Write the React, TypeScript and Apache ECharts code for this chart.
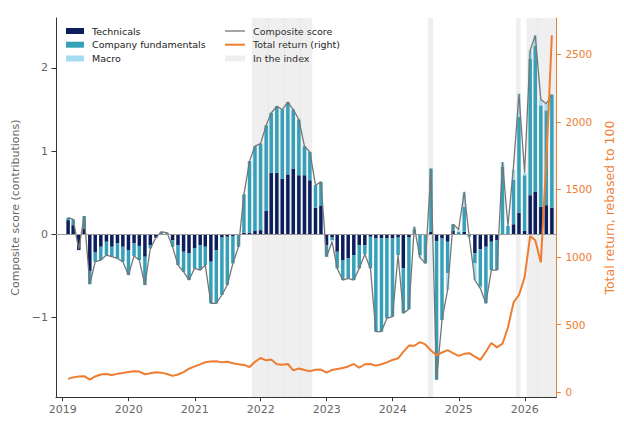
import React, { useEffect, useRef } from 'react';
import * as echarts from 'echarts';

// Monthly observations, first month January 2019, plotted at month end
const START_YEAR = 2019;

const technicals = [
  0.17, 0.11, -0.19, 0.07, -0.44, -0.22, -0.15, -0.09, -0.15, -0.11, -0.15, -0.19,
  -0.11, -0.14, -0.27, -0.13, -0.04, 0.01, 0.01, -0.07, -0.13, -0.21, -0.23, -0.17,
  -0.13, -0.15, -0.33, -0.19, -0.04, -0.03, -0.02, -0.01, 0.02, 0.02, 0.04, 0.05,
  0.28, 0.74, 0.74, 0.67, 0.72, 0.79, 0.71, 0.71, 0.65, 0.32, 0.34, -0.13,
  -0.04, -0.21, -0.31, -0.29, -0.25, -0.13, -0.13, -0.03, -0.05, -0.05, -0.05, -0.05,
  -0.04, -0.41, -0.04, 0, 0, 0, 0.03, -0.08, -0.05, -0.09, 0.04, 0,
  0.03, 0, -0.23, -0.18, -0.15, -0.09, -0.07, 0, 0, 0.12, 0.26, 0.04,
  0.47, 0.51, 0.33, 0.35, 0.32,
];

const fundamentals = [
  0.03, 0.07, 0, 0.15, -0.16, -0.11, -0.16, -0.16, -0.12, -0.18, -0.18, -0.30,
  -0.15, -0.17, -0.34, -0.04, 0, 0.02, 0.01, -0.08, -0.24, -0.24, -0.32, -0.24,
  -0.30, -0.22, -0.50, -0.64, -0.69, -0.58, -0.33, -0.14, 0.46, 0.86, 1.02, 1.04,
  1.03, 0.72, 0.80, 0.83, 0.87, 0.71, 0.67, 0.35, 0.34, 0.27, 0.29, -0.14,
  -0.03, -0.20, -0.24, -0.24, -0.30, -0.28, -0.11, -0.38, -1.12, -1.12, -0.96, -0.94,
  -0.21, -0.54, -0.86, 0.06, -0.25, -0.35, 0.76, -1.67, -0.98, -0.38, 0.08, 0.03,
  0.30, -0.03, -0.12, -0.45, -0.68, -0.34, -0.36, 0.81, 0.10, 0.54, 1.15, 0.67,
  1.64, 1.76, 1.22, 1.14, 1.36,
];

const macro = [
  0, 0, 0, 0, 0, 0, 0, 0, 0, 0, 0, 0,
  0, 0, 0, 0, 0, 0, 0, 0, 0, 0, 0, 0,
  0, 0, 0, 0, 0, 0, 0, 0, 0, 0, 0, 0,
  0, 0, 0, 0, 0, 0, 0, 0, 0, 0, 0, 0,
  -0.02, 0, 0, 0, 0, 0, 0, 0, 0, 0, 0, 0,
  0, 0, 0, 0.03, -0.03, 0, 0, 0, 0, -0.20, 0, 0.03,
  0.18, -0.01, -0.20, -0.02, 0, 0, 0, 0.06, 0, 0.12, 0.28, 0.03,
  0.10, 0.12, 0.07, 0.08, 0,
];

const compositeScore = [
  0.20, 0.18, -0.18, 0.22, -0.60, -0.33, -0.31, -0.25, -0.27, -0.29, -0.33, -0.49,
  -0.26, -0.31, -0.61, -0.17, -0.04, 0.03, 0.02, -0.15, -0.37, -0.45, -0.55, -0.41,
  -0.43, -0.37, -0.83, -0.83, -0.73, -0.61, -0.35, -0.15, 0.48, 0.88, 1.06, 1.09,
  1.31, 1.46, 1.54, 1.50, 1.59, 1.50, 1.38, 1.06, 0.99, 0.59, 0.63, -0.27,
  -0.09, -0.41, -0.55, -0.53, -0.55, -0.41, -0.24, -0.41, -1.17, -1.17, -1.01, -0.99,
  -0.25, -0.95, -0.90, 0.09, -0.28, -0.35, 0.79, -1.75, -1.03, -0.67, 0.12, 0.06,
  0.51, -0.04, -0.55, -0.65, -0.83, -0.43, -0.43, 0.87, 0.10, 0.82, 1.69, 0.74,
  2.21, 2.39, 1.62, 1.57, 1.68,
];

const totalReturn = [
  100, 111, 118, 120, 95, 118, 132, 136, 128, 137, 143, 150,
  156, 154, 134, 141, 149, 146, 136, 122, 132, 150, 175, 192,
  207, 223, 228, 230, 222, 226, 215, 208, 203, 188, 226, 254,
  237, 243, 208, 205, 210, 163, 177, 165, 157, 168, 169, 146,
  166, 173, 180, 192, 210, 182, 208, 210, 198, 208, 222, 240,
  252, 300, 346, 345, 372, 355, 310, 275, 295, 312, 290, 270,
  285, 290, 265, 240, 300, 365, 333, 360, 480, 665, 720, 850,
  1155, 1125, 960, 1700, 2640,
];

const YEAR_TICKS = [2019, 2020, 2021, 2022, 2023, 2024, 2025, 2026];
const SCORE_TICKS = [-1, 0, 1, 2];
const RETURN_TICKS = [0, 500, 1000, 1500, 2000, 2500];

// Periods of index membership
const INDEX_PERIODS: [string, string][] = [
  ['2021-11-13', '2022-02-15'],
  ['2022-02-12', '2022-05-12'],
  ['2022-05-09', '2022-08-11'],
  ['2022-08-08', '2022-10-13'],
  ['2024-07-14', '2024-08-12'],
  ['2025-11-14', '2025-12-09'],
  ['2026-01-11', '2026-03-16'],
  ['2026-03-13', '2026-06-25'],
];

const C_TECH = '#0c1e5b';
const C_FUND = '#35a0b8';
const C_MACRO = '#a6dbf0';
const C_COMPOSITE = '#767676';
const C_RETURN = '#ee7d31';
const C_BAND = 'rgba(128,128,128,0.13)';
const FONT = "'DejaVu Sans', sans-serif";
const COMPONENT_COLORS = [C_TECH, C_FUND, C_MACRO];
const BAR_W = 3.5;

const stamp = (s: string) => {
  const [y, m, d] = s.split('-').map(Number);
  return new Date(y, m - 1, d).getTime();
};
const monthEnds = technicals.map((_, i) => new Date(START_YEAR, i + 1, 0).getTime());
const yearStamps = YEAR_TICKS.map((y) => new Date(y, 0, 1).getTime());
const pairs = (arr: number[]) => monthEnds.map((t, i) => [t, arr[i]]);
const minus = (v: number) => (v < 0 ? '\u2212' + Math.abs(v) : String(v));

// Stacked contribution bars: positives pile upwards, negatives downwards,
// in the order technicals, fundamentals, macro.
const renderContributions = (_params: any, api: any) => {
  const t = api.value(0);
  let up = 0;
  let down = 0;
  const children: any[] = [];
  [1, 2, 3].forEach((dim, k) => {
    const v = api.value(dim);
    if (!v) return;
    const base = v > 0 ? up : down;
    const end = base + v;
    if (v > 0) up = end;
    else down = end;
    const p0 = api.coord([t, base]);
    const p1 = api.coord([t, end]);
    children.push({
      type: 'rect',
      shape: {
        x: p0[0] - BAR_W / 2,
        y: Math.min(p0[1], p1[1]),
        width: BAR_W,
        height: Math.abs(p1[1] - p0[1]),
      },
      style: { fill: COMPONENT_COLORS[k] },
    });
  });
  return { type: 'group', children };
};

const legendRows = [31, 44.7, 58.5];

const option = {
  animation: false,
  backgroundColor: '#ffffff',
  grid: { left: 56, right: 57.5, top: 18, bottom: 27.8, containLabel: false },
  xAxis: {
    type: 'value',
    min: new Date(2018, 10, 25).getTime(),
    max: new Date(2026, 5, 25).getTime(),
    axisLine: { onZero: false, lineStyle: { color: '#333', width: 1 } },
    axisTick: { show: true, customValues: yearStamps, length: 4, lineStyle: { color: '#333' } },
    axisLabel: {
      customValues: yearStamps,
      formatter: (v: number) => String(new Date(v).getFullYear()),
      color: '#666',
      fontSize: 11,
      fontFamily: FONT,
      margin: 7,
    },
    splitLine: { show: false },
  },
  yAxis: [
    {
      type: 'value',
      position: 'left',
      min: -1.959,
      max: 2.601,
      axisLine: { show: true, lineStyle: { color: '#333', width: 1 } },
      axisTick: { show: true, customValues: SCORE_TICKS, length: 4.5, lineStyle: { color: '#333' } },
      axisLabel: {
        customValues: SCORE_TICKS,
        formatter: (v: number) => minus(v),
        color: '#666',
        fontSize: 11,
        fontFamily: FONT,
        margin: 8,
      },
      splitLine: { show: false },
      name: 'Composite score (contributions)',
      nameLocation: 'middle',
      nameRotate: 90,
      nameGap: 30,
      nameTextStyle: { color: '#666', fontSize: 11, fontFamily: FONT },
    },
    {
      type: 'value',
      position: 'right',
      min: -35.5,
      max: 2767,
      axisLine: { show: true, lineStyle: { color: C_RETURN, width: 1 } },
      axisTick: { show: true, customValues: RETURN_TICKS, length: 4.5, lineStyle: { color: C_RETURN } },
      axisLabel: {
        customValues: RETURN_TICKS,
        formatter: (v: number) => String(v),
        color: C_RETURN,
        fontSize: 10.5,
        fontFamily: FONT,
        margin: 9,
      },
      splitLine: { show: false },
      name: 'Total return, rebased to 100',
      nameLocation: 'middle',
      nameRotate: 90,
      nameGap: 41,
      nameTextStyle: { color: C_RETURN, fontSize: 12.5, fontFamily: FONT },
    },
  ],
  series: [
    {
      name: 'In the index',
      type: 'line',
      data: [],
      z: 1,
      silent: true,
      markArea: {
        silent: true,
        itemStyle: { color: C_BAND },
        data: INDEX_PERIODS.map(([a, b]) => [{ xAxis: stamp(a) }, { xAxis: stamp(b) }]),
      },
      markLine: {
        silent: true,
        symbol: 'none',
        label: { show: false },
        lineStyle: { color: '#9a9a9a', width: 1, type: 'solid' },
        data: [{ yAxis: 0 }],
      },
    },
    {
      name: 'Contributions',
      type: 'custom',
      renderItem: renderContributions,
      data: monthEnds.map((t, i) => [t, technicals[i], fundamentals[i], macro[i]]),
      encode: { x: 0, y: [1, 2, 3] },
      z: 2,
      silent: true,
    },
    {
      name: 'Composite score',
      type: 'line',
      data: pairs(compositeScore),
      symbol: 'none',
      lineStyle: { color: C_COMPOSITE, width: 1.3 },
      z: 3,
      silent: true,
    },
    {
      name: 'Total return (right)',
      type: 'line',
      yAxisIndex: 1,
      data: pairs(totalReturn),
      symbol: 'none',
      lineStyle: { color: C_RETURN, width: 2 },
      z: 4,
      silent: true,
    },
  ],
  graphic: [
    // left legend column: bar components
    ...COMPONENT_COLORS.map((c, k) => ({
      type: 'rect',
      shape: { x: 66, y: legendRows[k] - 3, width: 18, height: 6 },
      style: { fill: c },
      silent: true,
    })),
    ...['Technicals', 'Company fundamentals', 'Macro'].map((t, k) => ({
      type: 'text',
      x: 92,
      y: legendRows[k],
      style: { text: t, fontSize: 9.5, fontFamily: FONT, fill: '#222', verticalAlign: 'middle' },
      silent: true,
    })),
    // right legend column: lines and index shading
    {
      type: 'line',
      shape: { x1: 225, y1: legendRows[0], x2: 245, y2: legendRows[0] },
      style: { stroke: C_COMPOSITE, lineWidth: 1.3 },
      silent: true,
    },
    {
      type: 'line',
      shape: { x1: 225, y1: legendRows[1], x2: 245, y2: legendRows[1] },
      style: { stroke: C_RETURN, lineWidth: 2 },
      silent: true,
    },
    {
      type: 'rect',
      shape: { x: 225, y: legendRows[2] - 3, width: 20, height: 6 },
      style: { fill: '#eeeeee' },
      silent: true,
    },
    ...['Composite score', 'Total return (right)', 'In the index'].map((t, k) => ({
      type: 'text',
      x: 253,
      y: legendRows[k],
      style: { text: t, fontSize: 9.5, fontFamily: FONT, fill: '#222', verticalAlign: 'middle' },
      silent: true,
    })),
  ],
};

export default function App() {
  const ref = useRef<HTMLDivElement>(null);
  useEffect(() => {
    if (!ref.current) return;
    const chart = echarts.init(ref.current, null, { renderer: 'svg' });
    chart.setOption(option as any);
    return () => chart.dispose();
  }, []);
  return (
    <div
      ref={ref}
      style={{ position: 'fixed', left: 0, top: 0, width: 624, height: 425, background: '#fff' }}
    />
  );
}
